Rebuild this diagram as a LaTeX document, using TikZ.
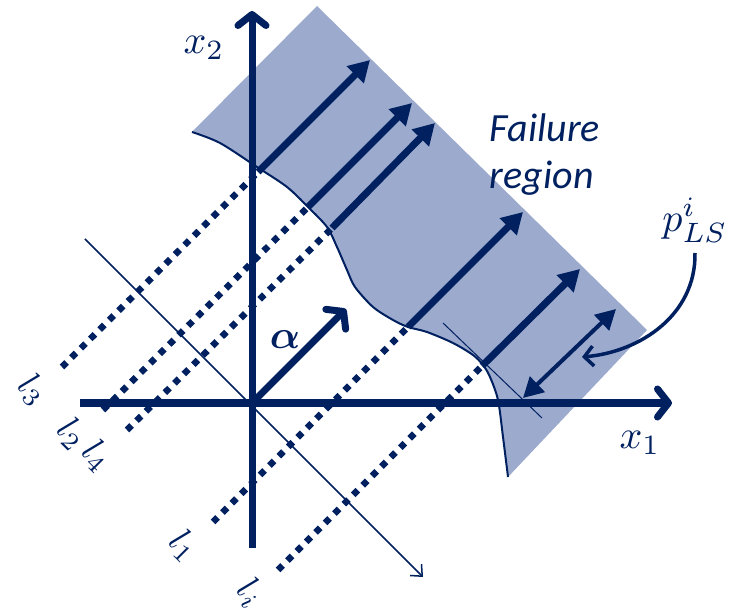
\documentclass[tikz,border=0pt]{standalone}
\usepackage{bm}
\usepackage{fontspec}
\newfontfamily\carl{Carlito}
\usetikzlibrary{arrows.meta}
\definecolor{navy}{RGB}{0,32,96}
\definecolor{failc}{RGB}{156,170,206}
\tikzset{
  ax/.style={navy, line width=7pt, -{Straight Barb[length=11pt,width=28pt,line cap=round,line join=round]}},
  sol/.style={navy, line width=7pt, -{Triangle[length=21pt,width=23pt]}},
  dotl/.style={navy, line width=6.5pt, dash pattern=on 6.5pt off 6.8pt},
  dbl/.style={navy, line width=4pt, {Triangle[length=20pt,width=21pt]}-{Triangle[length=20pt,width=21pt]}},
  thinl/.style={navy, line width=1.5pt},
  lab/.style={text=navy, inner sep=0pt, scale=3.6},
  mlab/.style={text=navy, inner sep=0pt, scale=4},
}
\begin{document}
\begin{tikzpicture}[x=1pt,y=-1pt]
\useasboundingbox (0,0) rectangle (742,612);
% failure region
\fill[failc] (317,6) -- (647,330) -- (508,477) -- plot[smooth] coordinates {(508,477) (503,437) (498,400) (490,377) (483,365) (473,355) (453,343) (427,332) (408,327) (393,320) (373,307) (355,287) (347,270) (337,247) (327,227) (308,207) (287,187) (257,167) (220,143) (192,132)} -- cycle;
\draw[navy, line width=2pt] plot[smooth] coordinates {(192,132) (220,143) (257,167) (287,187) (308,207) (327,227) (337,247) (347,270) (355,287) (373,307) (393,320) (408,327) (427,332) (453,343) (473,355) (483,365) (490,377) (498,400) (503,437) (508,477)};
% coordinates
\coordinate (O) at (252,403);
\coordinate (s3) at (62,367);   \coordinate (b3) at (258,172); \coordinate (t3) at (370,60);
\coordinate (s2) at (103,410);  \coordinate (b2) at (308,207); \coordinate (t2) at (412,103);
\coordinate (s4) at (127,430);  \coordinate (b4) at (332,228); \coordinate (t4) at (435,123);
\coordinate (s1) at (213,522);  \coordinate (b1) at (408,327); \coordinate (t1) at (523,212);
\coordinate (si) at (278,570);  \coordinate (bi) at (482,366); \coordinate (ti) at (580,269);
% thin lines
\draw[thinl, -{Straight Barb[length=9pt,width=16pt]}] (85,239) -- (423,577);
\draw[thinl, line width=1pt] (443,323) -- (542,418);
% dotted lines
\foreach \k in {3,2,4,1,i} { \draw[dotl] (s\k) -- (b\k); }
% solid arrows
\foreach \k in {3,2,4,1,i} { \draw[sol] (b\k) -- (t\k); }
\draw[dbl] (523,398) -- (616,309);
% axes
\draw[ax] (80,403) -- (672,403);
\draw[ax] (252,548) -- (252,11);
\draw[ax] (O) -- (346,309);
% curved arrow
\draw[navy, line width=3.5pt, -{Straight Barb[length=9pt,width=20pt]}] (695,253) .. controls (696,315) and (640,352) .. (582,357);
% labels
\node[mlab] (x2) at (204,48) {$x_2$};
\node[mlab] (x1) at (640,443) {$x_1$};
\node[mlab] (al) at (285,340) {$\bm{\alpha}$};
\node[mlab] (p) at (695,220) {$p^i_{LS}$};
\node[text=navy, align=left, font=\carl\itshape\fontsize{40}{47}\selectfont] (fr) at (545,155) {Failure\\region};
\node[lab, rotate=-45] (l3) at (33,390) {$l_3$};
\node[lab, rotate=-45] (l2) at (72,434) {$l_2$};
\node[lab, rotate=-45] (l4) at (97,456) {$l_4$};
\node[lab, rotate=-45] (l1) at (184,546) {$l_1$};
\node[lab, rotate=-45] (li) at (250,593) {$l_i$};
\end{tikzpicture}
\end{document}
